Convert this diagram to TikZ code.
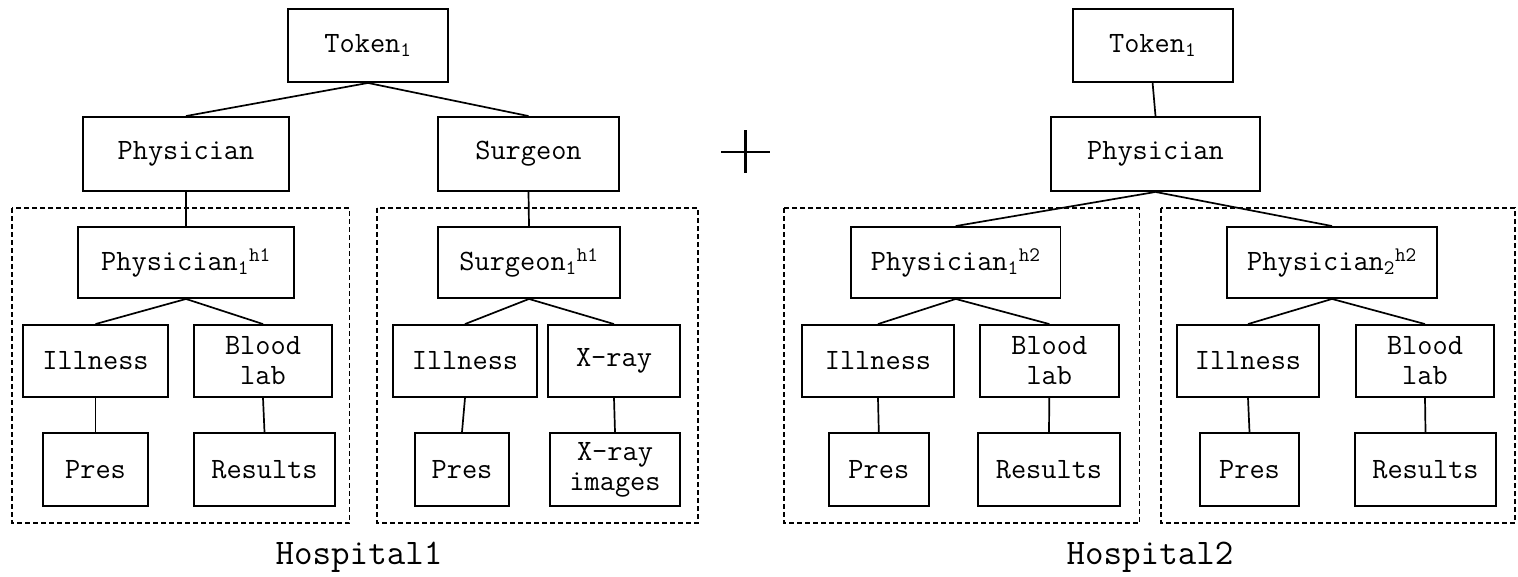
\documentclass[tikz,border=0pt]{standalone}
\usepackage{fontspec}
\begin{document}
\begin{tikzpicture}[x=1pt,y=-1pt,
  bx/.style={draw,line width=1.9pt,inner sep=0pt,align=center,
    font=\ttfamily\fontsize{29.5}{30}\selectfont},
  edge/.style={line width=1.7pt},
  grp/.style={draw,line width=1.7pt,dash pattern=on 5pt off 3pt},
  hosplabel/.style={font=\ttfamily\fontsize{36}{40}\selectfont,inner sep=0pt}]
\useasboundingbox (0,0) rectangle (1518,576);
\newcommand{\sbx}[1]{\textsubscript{#1}}
\newcommand{\spx}[1]{\textsuperscript{#1}}
% groups
\draw[grp] (12,208) rectangle (349.5,523);
\draw[grp] (377,208) rectangle (698,523);
\draw[grp] (784,208) rectangle (1139.5,523);
\draw[grp] (1161,208) rectangle (1515,523);
% left tree
\node[bx,minimum width=160pt,minimum height=73pt] (tokA) at (368,45.5) {Token\sbx{1}};
\node[bx,minimum width=206pt,minimum height=74pt] (physA) at (186,154) {Physician};
\node[bx,minimum width=181pt,minimum height=74pt] (surgA) at (528.5,154) {Surgeon};
\node[bx,minimum width=215.5pt,minimum height=71pt] (ph1h1) at (186,262.5) {Physician\sbx{1}\spx{h1}};
\node[bx,minimum width=181.5pt,minimum height=71pt] (su1h1) at (529,262.5) {Surgeon\sbx{1}\spx{h1}};
\node[bx,minimum width=145pt,minimum height=72pt] (illA) at (95.5,361) {Illness};
\node[bx,minimum width=138.5pt,minimum height=72pt] (bloodA) at (263,361) {Blood\\lab};
\node[bx,minimum width=105pt,minimum height=73pt] (presA) at (95.5,469.5) {Pres};
\node[bx,minimum width=141pt,minimum height=73pt] (resA) at (264.5,469.5) {Results};
\node[bx,minimum width=144pt,minimum height=72pt] (illB) at (465,361) {Illness};
\node[bx,minimum width=132.5pt,minimum height=72pt] (xray) at (614,361) {X-ray};
\node[bx,minimum width=94pt,minimum height=73pt] (presB) at (462,469.5) {Pres};
\node[bx,minimum width=130.5pt,minimum height=73pt] (ximg) at (615,469.5) {X-ray\\images};
\draw[edge] (tokA.south) -- (physA.north);
\draw[edge] (tokA.south) -- (surgA.north);
\draw[edge] (physA.south) -- (ph1h1.north);
\draw[edge] (surgA.south) -- (su1h1.north);
\draw[edge] (ph1h1.south) -- (illA.north);
\draw[edge] (ph1h1.south) -- (bloodA.north);
\draw[edge] (illA.south) -- (presA.north);
\draw[edge] (bloodA.south) -- (resA.north);
\draw[edge] (su1h1.south) -- (illB.north);
\draw[edge] (su1h1.south) -- (xray.north);
\draw[edge] (illB.south) -- (presB.north);
\draw[edge] (xray.south) -- (ximg.north);
\node[hosplabel] (hosp1) at (359,557) {Hospital1};
% plus
\coordinate (pl) at (721,152); \coordinate (pr) at (770,152);
\coordinate (pt) at (745.5,130); \coordinate (pb) at (745.5,173);
\draw[line width=2.6pt] (pl) -- (pr);
\draw[line width=2.6pt] (pt) -- (pb);
% right tree
\node[bx,minimum width=160pt,minimum height=73pt] (tokB) at (1152.6,45.5) {Token\sbx{1}};
\node[bx,minimum width=209pt,minimum height=74pt] (physB) at (1155.5,154) {Physician};
\node[bx,minimum width=209.5pt,minimum height=71pt] (p1h2) at (955.75,262.5) {Physician\sbx{1}\spx{h2}};
\node[bx,minimum width=210pt,minimum height=71pt] (p2h2) at (1332,262.5) {Physician\sbx{2}\spx{h2}};
\node[bx,minimum width=152pt,minimum height=72pt] (illC) at (878,361) {Illness};
\node[bx,minimum width=139pt,minimum height=72pt] (bloodC) at (1049.3,361) {Blood\\lab};
\node[bx,minimum width=100pt,minimum height=73pt] (presC) at (878.8,469.5) {Pres};
\node[bx,minimum width=142pt,minimum height=73pt] (resC) at (1049,469.5) {Results};
\node[bx,minimum width=142pt,minimum height=72pt] (illD) at (1248,361) {Illness};
\node[bx,minimum width=138pt,minimum height=72pt] (bloodD) at (1425,361) {Blood\\lab};
\node[bx,minimum width=99pt,minimum height=73pt] (presD) at (1249.5,469.5) {Pres};
\node[bx,minimum width=141pt,minimum height=73pt] (resD) at (1425.5,469.5) {Results};
\draw[edge] (tokB.south) -- (physB.north);
\draw[edge] (physB.south) -- (p1h2.north);
\draw[edge] (physB.south) -- (p2h2.north);
\draw[edge] (p1h2.south) -- (illC.north);
\draw[edge] (p1h2.south) -- (bloodC.north);
\draw[edge] (illC.south) -- (presC.north);
\draw[edge] (bloodC.south) -- (resC.north);
\draw[edge] (p2h2.south) -- (illD.north);
\draw[edge] (p2h2.south) -- (bloodD.north);
\draw[edge] (illD.south) -- (presD.north);
\draw[edge] (bloodD.south) -- (resD.north);
\node[hosplabel] (hosp2) at (1150,557) {Hospital2};
\end{tikzpicture}
\end{document}
